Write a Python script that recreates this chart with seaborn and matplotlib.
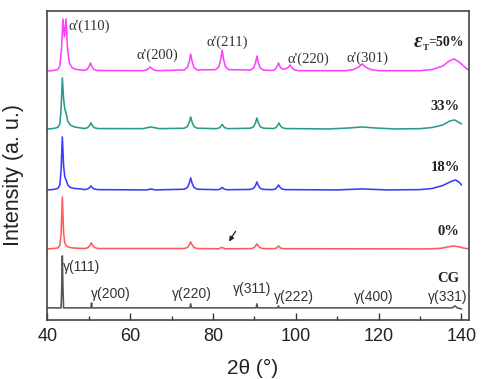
import numpy as np
import pandas as pd
import matplotlib
matplotlib.use("Agg")
import matplotlib.pyplot as plt
import seaborn as sns

# XRD patterns: 2theta (deg) and intensity above each baseline (a.u.)
cg_x = [40, 43.3, 43.45, 43.6, 43.75, 43.9, 50.5, 50.65, 50.8, 74.4, 74.6, 74.8,
        90.4, 90.6, 90.8, 95.6, 95.8, 96.0, 137.8, 138.4, 139.0, 140]
cg_y = [0, 0, 20, 52, 20, 0, 0, 5, 0, 0, 4, 0,
        0, 4, 0, 0, 2, 0, 0, 2, 0, -1]

e0_x = [40, 41.5, 42.5, 43.0, 43.3, 43.6, 43.9, 44.2, 44.6, 45.3, 46.5, 48,
        49.1, 49.8, 50.25, 50.6, 50.95, 51.4, 52.2,
        73.0, 73.8, 74.25, 74.6, 74.95, 75.4, 76.2,
        81.3, 82.1, 82.9,
        89.1, 89.8, 90.25, 90.6, 90.95, 91.4, 92.2,
        94.6, 95.3, 95.8, 96.3, 97.0,
        132, 135, 137, 138.2, 139.4, 140.5, 142]
e0_y = [0, 0.4, 1, 3.5, 15, 52, 16, 6, 3, 1.5, 0.8, 0.5,
        0.4, 1.3, 3.3, 6, 3.3, 1.3, 0.4,
        0.4, 1.4, 3.9, 7, 3.9, 1.4, 0.4,
        0.1, 1.5, 0.1,
        0.3, 1, 2.8, 5, 2.8, 1, 0.3,
        0.2, 0.8, 3, 0.8, 0.2,
        0, 0.6, 2.2, 3, 2, 0.8, 0]

e18_x = [40, 41.5, 42.5, 43.0, 43.3, 43.6, 43.9, 44.2, 44.5, 44.9, 45.5, 46.5, 48,
         49.0, 49.7, 50.15, 50.5, 50.85, 51.3, 52.1,
         64, 65, 66,
         73.0, 73.8, 74.25, 74.6, 74.95, 75.4, 76.2,
         81.0, 81.7, 82.2, 82.7, 83.4,
         89.0, 89.8, 90.25, 90.6, 90.95, 91.4, 92.2,
         94.4, 95.1, 95.45, 95.8, 96.15, 96.6, 97.4,
         110, 116, 122,
         130, 133, 135.5, 137.5, 138.6, 139.5, 140]
e18_y = [0, 0.5, 1.5, 5, 20, 53, 24, 13, 10, 5, 2.5, 1.5, 1,
         0.3, 0.9, 2.2, 4, 2.2, 0.9, 0.3,
         0, 1, 0,
         0.7, 2.4, 6.6, 12, 6.6, 2.4, 0.7,
         0.2, 0.8, 2.5, 0.8, 0.2,
         0.5, 1.6, 4.4, 8, 4.4, 1.6, 0.5,
         0.3, 1, 2.7, 5, 2.7, 1, 0.3,
         0, 1, 0,
         0.3, 1.5, 4.5, 8.5, 10, 7.5, 5]

e33_x = [40, 41.5, 42.5, 43.0, 43.3, 43.6, 43.9, 44.2, 44.5, 44.9, 45.5, 46.5, 48,
         49.0, 49.7, 50.15, 50.5, 50.85, 51.3, 52.1,
         63, 65, 67,
         73.0, 73.8, 74.25, 74.6, 74.95, 75.4, 76.2,
         80.8, 81.6, 82.2, 82.8, 83.6,
         89.0, 89.8, 90.25, 90.6, 90.95, 91.4, 92.2,
         94.5, 95.2, 95.55, 95.9, 96.25, 96.7, 97.5,
         108, 113, 116, 119, 124,
         130, 133, 135.5, 137.2, 138.3, 139.2, 140]
e33_y = [0, 0.5, 1.5, 5, 20, 51, 30, 20, 16, 8, 4, 2, 1,
         0.4, 1.3, 3.3, 6, 3.3, 1.3, 0.4,
         0.3, 2, 0.3,
         0.7, 2.4, 6.6, 12, 6.6, 2.4, 0.7,
         0.3, 1.2, 4.5, 1.2, 0.3,
         0.7, 2.2, 6, 11, 6, 2.2, 0.7,
         0.4, 1.3, 3.3, 6, 3.3, 1.3, 0.4,
         0, 1, 2, 1, 0,
         0.3, 1.5, 4, 8, 9, 7, 5]

e50_x = [40, 41.5, 42.5, 43.0, 43.4, 43.75, 44.1, 44.5, 44.85, 45.3, 46.0, 47.0, 48,
         48.8, 49.6, 50.05, 50.4, 50.75, 51.2, 52.0,
         63.2, 64.0, 64.8, 65.6, 66.4,
         73.0, 73.8, 74.25, 74.6, 74.95, 75.4, 76.2,
         80.6, 81.4, 81.85, 82.2, 82.55, 83.0, 83.8,
         89.0, 89.8, 90.25, 90.6, 90.95, 91.4, 92.2,
         94.4, 95.0, 95.45, 95.8, 96.15, 96.7, 97.4, 98.1, 98.6, 99.0, 99.6, 100.6,
         112, 114, 115.2, 116, 116.8, 118, 120,
         130, 133, 135.5, 137, 138.2, 139.4, 140.5, 141.3, 142]
e50_y = [0, 0.5, 1.5, 5, 22, 52, 34, 52, 22, 8, 3, 1.5, 1,
         0.5, 1.6, 4.4, 8, 4.4, 1.6, 0.5,
         0.3, 1.2, 4, 1.2, 0.3,
         1, 3.4, 9.4, 17, 9.4, 3.4, 1,
         1.3, 4.2, 11.5, 21, 11.5, 4.2, 1.3,
         0.9, 3, 8.2, 15, 8.2, 3, 0.9,
         0.5, 1.6, 4.4, 8, 4.4, 2, 2, 3.5, 6, 3.5, 1.2, 0.3,
         0.3, 1.5, 4, 7, 4, 1.5, 0.3,
         0.3, 1.5, 5, 10, 12, 9, 5, 2, 0.5]

samples = ["CG", "0%", "18%", "33%", "50%"]
offsets = {"CG": 12, "0%": 71, "18%": 130, "33%": 191, "50%": 249}
colors = {"CG": "#555555", "0%": "#ff5a5a", "18%": "#3a3aff",
          "33%": "#2a9a8c", "50%": "#ff40ff"}

series = {"CG": (cg_x, cg_y), "0%": (e0_x, e0_y), "18%": (e18_x, e18_y),
          "33%": (e33_x, e33_y), "50%": (e50_x, e50_y)}

frames = []
for s in samples:
    x, y = series[s]
    frames.append(pd.DataFrame({"two_theta": x,
                                "intensity": np.array(y, dtype=float) + offsets[s],
                                "sample": s}))
df = pd.concat(frames, ignore_index=True)

sns.set_style("ticks")
plt.rcParams["font.family"] = ["Liberation Sans", "DejaVu Sans"]

fig = plt.figure(figsize=(4.89, 3.79), dpi=100)
ax = fig.add_axes([0.097, 0.156, 0.862, 0.815])

sns.lineplot(data=df, x="two_theta", y="intensity", hue="sample", palette=colors,
             sort=False, estimator=None, legend=False, linewidth=1.15, ax=ax)

ax.set_xlim(40, 141.8)
ax.set_ylim(0, 309)
ax.set_yticks([])
ax.set_xticks([40, 60, 80, 100, 120, 140])
ax.set_xticks([50, 70, 90, 110, 130], minor=True)
ax.tick_params(axis="x", which="major", direction="in", length=5, width=1,
               labelsize=13, pad=6, colors="#333333")
ax.tick_params(axis="x", which="minor", direction="in", length=3, width=1, colors="#333333")
ax.tick_params(axis="x", labelcolor="#222222")
for sp in ax.spines.values():
    sp.set_color("#444444")
    sp.set_linewidth(1.2)
ax.set_xlabel("2θ (°)", fontsize=15, color="#222222")
ax.xaxis.set_label_coords(0.486, -0.125)
ax.set_ylabel("Intensity (a. u.)", fontsize=15.5, color="#222222")
ax.yaxis.set_label_coords(-0.056, 0.47)

serif = ["Liberation Serif", "DejaVu Serif"]
alpha_labels = [("α'(110)", 45.2, 294), ("α'(200)", 61.4, 265), ("α'(211)", 78.4, 278),
                ("α'(220)", 98.0, 261), ("α'(301)", 112.3, 262)]
for txt, x, y in alpha_labels:
    ax.text(x, y, txt, family=serif, fontsize=10.5, color="#333333", ha="left", va="center")

strain_labels = [("33%", 139.6, 213), ("18%", 139.6, 152),
                 ("0%", 139.6, 88), ("CG", 139.4, 41)]
for txt, x, y in strain_labels:
    ax.text(x, y, txt, family=serif, fontsize=10.5, fontweight="bold",
            color="#222222", ha="right", va="center")

# epsilon_T = 50% label built from three pieces placed side by side
t50 = ax.text(140.6, 277, "=50%", family=serif, fontsize=10, fontweight="bold",
              color="#222222", ha="right", va="center")
fig.canvas.draw()
renderer = fig.canvas.get_renderer()
inv = ax.transData.inverted()
x_t = inv.transform((t50.get_window_extent(renderer).x0, 0))[0]
tT = ax.text(x_t, 272, "T", family=serif, fontsize=6.5, fontweight="bold",
             color="#222222", ha="right", va="center")
fig.canvas.draw()
x_e = inv.transform((tT.get_window_extent(renderer).x0, 0))[0]
ax.text(x_e, 278, "ε", family=serif, fontsize=15, fontweight="bold",
        style="italic", color="#222222", ha="right", va="center")

gamma_labels = [("γ(111)", 43.75, 53), ("γ(200)", 50.5, 26), ("γ(220)", 70.1, 26),
                ("γ(311)", 84.9, 31), ("γ(222)", 94.6, 23), ("γ(400)", 114.0, 23),
                ("γ(331)", 131.9, 23)]
for txt, x, y in gamma_labels:
    ax.text(x, y, txt, fontsize=10, color="#333333", ha="left", va="center")

ax.annotate("", xy=(83.5, 76), xytext=(85.8, 91),
            arrowprops=dict(arrowstyle="-|>", color="#222222", lw=0.9,
                            mutation_scale=7))

fig.savefig("out.png", dpi=100)
